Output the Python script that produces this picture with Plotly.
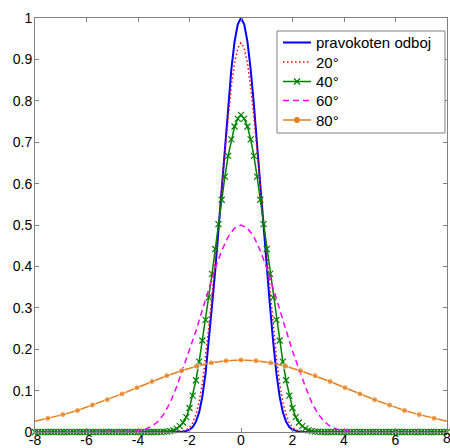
import plotly.graph_objects as go

# ---- data ----
core_x = [-8, -3, -2.75, -2.5, -2.375, -2.25, -2.125, -2, -1.875, -1.75, -1.625, -1.5,
          -1.375, -1.25, -1.125, -1, -0.875, -0.75, -0.625, -0.5, -0.375, -0.25, -0.125, 0,
          0.125, 0.25, 0.375, 0.5, 0.625, 0.75, 0.875, 1, 1.125, 1.25, 1.375, 1.5,
          1.625, 1.75, 1.875, 2, 2.125, 2.25, 2.375, 2.5, 2.75, 3, 8]

perp_y = [0, 0, 0, 0.0001, 0.0004, 0.001, 0.0025, 0.0055, 0.012, 0.025, 0.048, 0.086,
          0.142, 0.218, 0.305, 0.391, 0.488, 0.590, 0.693, 0.791, 0.876, 0.943, 0.985, 1.0,
          0.985, 0.943, 0.876, 0.791, 0.693, 0.590, 0.488, 0.391, 0.305, 0.218, 0.142, 0.086,
          0.048, 0.025, 0.012, 0.0055, 0.0025, 0.001, 0.0004, 0.0001, 0, 0, 0]

a20_y = [0, 0, 0.0001, 0.0005, 0.0011, 0.0025, 0.005, 0.011, 0.022, 0.042, 0.073, 0.118,
         0.180, 0.254, 0.330, 0.411, 0.499, 0.589, 0.679, 0.762, 0.835, 0.891, 0.927, 0.94,
         0.927, 0.891, 0.835, 0.762, 0.679, 0.589, 0.499, 0.411, 0.330, 0.254, 0.180, 0.118,
         0.073, 0.042, 0.022, 0.011, 0.005, 0.0025, 0.0011, 0.0005, 0.0001, 0, 0]

a40_x = [i * 0.125 for i in range(-64, 65)]  # sampling grid of the 40° series
a40_y = [0, 0, 0, 0, 0, 0, 0, 0, 0, 0,
         0, 0, 0, 0, 0, 0, 0, 0, 0, 0,
         0, 0, 0, 0, 0, 0, 0, 0, 0, 0,
         0, 0, 0, 0, 0, 0, 0, 0, 0, 0,
         0.001, 0.001, 0.002, 0.004, 0.008, 0.014, 0.023, 0.036, 0.058, 0.088, 0.125, 0.170,
         0.221, 0.271, 0.325, 0.382, 0.442, 0.502, 0.561, 0.617, 0.667, 0.707, 0.738, 0.757,
         0.766,
         0.757, 0.738, 0.707, 0.667, 0.617, 0.561, 0.502, 0.442, 0.382, 0.325, 0.271, 0.221,
         0.170, 0.125, 0.088, 0.058, 0.036, 0.023, 0.014, 0.008, 0.004, 0.002, 0.001, 0.001,
         0, 0, 0, 0, 0, 0, 0, 0, 0, 0,
         0, 0, 0, 0, 0, 0, 0, 0, 0, 0,
         0, 0, 0, 0, 0, 0, 0, 0, 0, 0,
         0, 0, 0, 0, 0, 0, 0, 0, 0, 0]

a60_x = [-8, -5.5, -5, -4.75, -4.5, -4.25, -4, -3.75, -3.5, -3.25, -3, -2.75, -2.5, -2.25,
         -2, -1.75, -1.5, -1.25, -1, -0.75, -0.5, -0.25, 0, 0.25, 0.5, 0.75, 1, 1.25, 1.5,
         1.75, 2, 2.25, 2.5, 2.75, 3, 3.25, 3.5, 3.75, 4, 4.25, 4.5, 4.75, 5, 5.5, 8]
a60_y = [0, 0, 0.0001, 0.0002, 0.0005, 0.0013, 0.0028, 0.006, 0.0125, 0.024, 0.043, 0.071,
         0.109, 0.1525, 0.1955, 0.244, 0.295, 0.3465, 0.3955, 0.438, 0.4715, 0.4925, 0.5,
         0.4925, 0.4715, 0.438, 0.3955, 0.3465, 0.295, 0.244, 0.1955, 0.1525, 0.109, 0.071,
         0.043, 0.024, 0.0125, 0.006, 0.0028, 0.0013, 0.0005, 0.0002, 0.0001, 0, 0]

a80_x = [-8, -7.50, -6.92, -6.35, -5.77, -5.19, -4.62, -4.04, -3.46, -2.88, -2.31, -1.73,
         -1.15, -0.58, 0, 0.58, 1.15, 1.73, 2.31, 2.88, 3.46, 4.04, 4.62, 5.19, 5.77, 6.35,
         6.92, 7.50, 8]
a80_y = [0.026, 0.033, 0.042, 0.052, 0.065, 0.078, 0.092, 0.107, 0.122, 0.136, 0.148, 0.159,
         0.167, 0.172, 0.174, 0.172, 0.167, 0.159, 0.148, 0.136, 0.122, 0.107, 0.092, 0.078,
         0.065, 0.052, 0.042, 0.033, 0.026]

names = ["pravokoten odboj", "20°", "40°", "60°", "80°"]
x_ticks = [-8, -6, -4, -2, 0, 2, 4, 6]
x_edge_tick = 8
y_ticks = [0, 0.1, 0.2, 0.3, 0.4, 0.5, 0.6, 0.7, 0.8, 0.9, 1]
y_tick_text = ["0", "0.1", "0.2", "0.3", "0.4", "0.5", "0.6", "0.7", "0.8", "0.9", "1"]

BLUE, RED, GREEN, MAGENTA, ORANGE = "#0000FF", "#FF0000", "#008000", "#FF00FF", "rgb(230,128,30)"
FONT = "Liberation Sans, Arial"
TICK_SIZE = 14

fig = go.Figure()
fig.add_trace(go.Scatter(x=core_x, y=perp_y, mode="lines", name=names[0],
                         line=dict(color=BLUE, width=2)))
fig.add_trace(go.Scatter(x=core_x, y=a20_y, mode="lines", name=names[1],
                         line=dict(color=RED, width=1.5, dash="1.5px,2.5px")))
fig.add_trace(go.Scatter(x=a40_x, y=a40_y, mode="lines+markers", name=names[2],
                         line=dict(color=GREEN, width=1.5),
                         marker=dict(symbol="x-thin", size=6,
                                     line=dict(color=GREEN, width=1.2)),
                         cliponaxis=False))
fig.add_trace(go.Scatter(x=a60_x, y=a60_y, mode="lines", name=names[3],
                         line=dict(color=MAGENTA, width=1.5, dash="6px,4px")))
sizes80 = [0] + [6] * (len(a80_x) - 2) + [0]
fig.add_trace(go.Scatter(x=a80_x, y=a80_y, mode="lines+markers", name=names[4],
                         line=dict(color=ORANGE, width=1.5),
                         marker=dict(symbol="circle", size=sizes80, color=ORANGE),
                         cliponaxis=False))

axis_common = dict(showgrid=False, zeroline=False, showline=True, linecolor="#808080",
                   linewidth=1, mirror="ticks", ticks="inside", ticklen=4,
                   tickcolor="#808080", automargin=False,
                   tickfont=dict(family=FONT, size=TICK_SIZE, color="black"))
fig.update_xaxes(range=[-8, 8], tickvals=x_ticks + [x_edge_tick],
                 ticktext=[str(v) for v in x_ticks] + [""], ticklabelstandoff=-5,
                 **axis_common)
fig.update_yaxes(range=[0, 1], tickvals=y_ticks, ticktext=y_tick_text,
                 ticklabelstandoff=-1, **axis_common)

# the last x tick label sits on the window edge (half cut in the reference)
fig.add_annotation(x=x_edge_tick, y=0, xref="x", yref="paper", text=str(x_edge_tick),
                   showarrow=False, xanchor="center", yanchor="top", yshift=4,
                   font=dict(family=FONT, size=TICK_SIZE, color="black"))

# ---- hand-drawn legend box (MATLAB style) ----
PL, PR, PT, PB = 35, 447, 18, 432          # plot area in pixels


def px(xp):
    return (xp - PL) / (PR - PL)


def py(yp):
    return (PB - yp) / (PB - PT)


fig.add_shape(type="rect", xref="paper", yref="paper", layer="above",
              x0=px(277), x1=px(445), y0=py(133), y1=py(31),
              fillcolor="white", line=dict(color="#808080", width=1))

rows = [42.5, 62, 81.5, 100.5, 120]
styles = [
    dict(color=BLUE, width=2, dash="solid"),
    dict(color=RED, width=1.5, dash="1.5px,2.5px"),
    dict(color=GREEN, width=1.5, dash="solid"),
    dict(color=MAGENTA, width=1.5, dash="6px,4px"),
    dict(color=ORANGE, width=1.5, dash="solid"),
]
for name, row, st in zip(names, rows, styles):
    fig.add_shape(type="line", xref="paper", yref="paper", layer="above",
                  x0=px(283), x1=px(311), y0=py(row), y1=py(row), line=st)
    fig.add_annotation(x=px(314), y=py(row), xref="paper", yref="paper", text=name,
                       showarrow=False, xanchor="left", yanchor="middle",
                       font=dict(family=FONT, size=15, color="black"))

# legend markers
cx, r = 297, 3
gy = rows[2]
fig.add_shape(type="path", xref="paper", yref="paper", layer="above",
              path=(f"M {px(cx - r)} {py(gy - r)} L {px(cx + r)} {py(gy + r)} "
                    f"M {px(cx - r)} {py(gy + r)} L {px(cx + r)} {py(gy - r)}"),
              line=dict(color=GREEN, width=1.2))
oy = rows[4]
fig.add_shape(type="circle", xref="paper", yref="paper", layer="above",
              x0=px(cx - r), x1=px(cx + r), y0=py(oy + r), y1=py(oy - r),
              fillcolor=ORANGE, line=dict(color=ORANGE, width=0))

fig.update_layout(
    width=450, height=448, autosize=False,
    margin=dict(l=35, r=3, t=18, b=16),
    paper_bgcolor="white", plot_bgcolor="white",
    showlegend=False,
)

fig.write_html("out.html", config={"displayModeBar": False},
               post_script="document.body.style.margin='0';"
                           "document.body.style.overflow='hidden';")
